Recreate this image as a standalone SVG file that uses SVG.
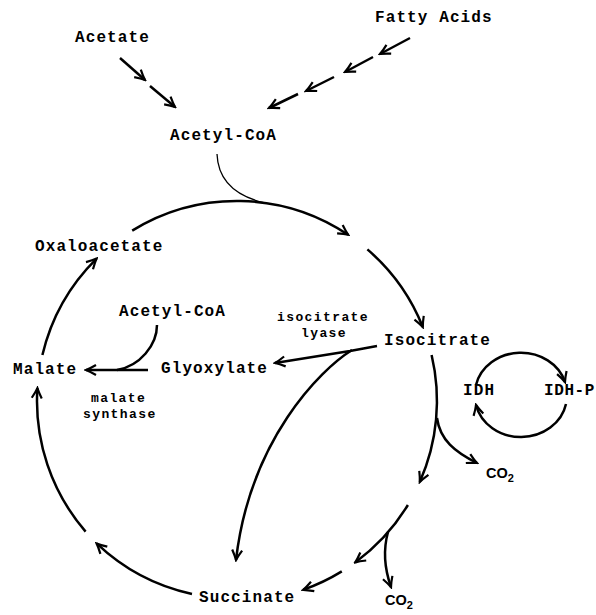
<svg xmlns="http://www.w3.org/2000/svg" width="596" height="615" viewBox="0 0 596 615">
<style>
.lbl{font-family:"Liberation Mono","Courier New",monospace;font-weight:bold;font-size:16px;letter-spacing:1.1px;fill:#000}
.sm{font-family:"Liberation Mono","Courier New",monospace;font-weight:bold;font-size:13px;letter-spacing:1.4px;fill:#000}
.co{font-family:"Liberation Sans",Arial,sans-serif;font-weight:bold;font-size:14.5px;fill:#000}
.ln{fill:none;stroke:#000;stroke-width:2.5;marker-end:url(#ah)}
.thin{fill:none;stroke:#000;stroke-width:1.3}
</style>
<defs>
<marker id="ah" markerUnits="userSpaceOnUse" viewBox="-12 -7 14 14" refX="0" refY="0" markerWidth="14" markerHeight="14" orient="auto">
<path d="M-10,-5 Q-4,-1.5 0,0 Q-4,1.5 -10,5" fill="none" stroke="#000" stroke-width="2.2" stroke-linejoin="miter"/>
</marker>
</defs>
<rect width="596" height="615" fill="#fff"/>
<g id="connectors">
<line class="ln" x1="120" y1="58" x2="145" y2="80"/>
<line class="ln" x1="150" y1="86" x2="175" y2="107"/>
<line class="ln" x1="410" y1="38" x2="380" y2="54"/>
<line class="ln" x1="373" y1="57" x2="345" y2="72"/>
<line class="ln" x1="334" y1="77" x2="306" y2="91"/>
<line class="ln" x1="298" y1="94" x2="269" y2="108"/>
<path class="thin" d="M217,154 C218,180 235,196 265,203"/>
<path class="ln" d="M132.2,230.6 A200,200 0 0 1 348.2,234.8"/>
<path class="ln" d="M367.4,249.4 A200,200 0 0 1 422.8,327"/>
<path class="ln" d="M431.6,355 A200,200 0 0 1 419.8,482"/>
<path class="ln" d="M407.9,505 A200,200 0 0 1 355.2,562.4"/>
<path class="ln" d="M341.8,571.4 A200,200 0 0 1 303.2,589.8"/>
<path class="ln" d="M192,594 A200,200 0 0 1 96.6,543.4"/>
<path class="ln" d="M85.6,531.6 A200,200 0 0 1 37.4,388.1"/>
<path class="ln" d="M42.4,355 A200,200 0 0 1 96.6,258.6"/>
<path class="ln" d="M437,418 C440,440 455,452 477,463"/>
<path class="ln" d="M388,532 C383,550 385,570 391,587"/>
<path class="ln" d="M377,346 L350,351 L275,363"/>
<path class="ln" d="M352,350 C320,370 250,440 236,560"/>
<path class="ln" d="M148,370 L86,370"/>
<path class="ln" style="marker-end:none" d="M157,325 C157,345 140,366 117,370"/>
<path class="ln" d="M476,385 A46,41 0 0 1 565,382"/>
<path class="ln" d="M566,404 A46,41 0 0 1 476,405"/>
</g>
<g id="acetate"><text class="lbl" x="75" y="42">Acetate</text></g>
<g id="fatty-acids"><text class="lbl" x="375" y="22">Fatty Acids</text></g>
<g id="acetyl-coa-top"><text class="lbl" x="170" y="140">Acetyl-CoA</text></g>
<g id="oxaloacetate"><text class="lbl" x="35" y="251">Oxaloacetate</text></g>
<g id="acetyl-coa-inner"><text class="lbl" x="119" y="316">Acetyl-CoA</text></g>
<g id="malate"><text class="lbl" x="13" y="374">Malate</text></g>
<g id="glyoxylate"><text class="lbl" x="161" y="373">Glyoxylate</text></g>
<g id="isocitrate-lyase"><text class="sm" x="277" y="321">isocitrate</text><text class="sm" x="301" y="337">lyase</text></g>
<g id="isocitrate"><text class="lbl" x="384" y="345">Isocitrate</text></g>
<g id="idh"><text class="lbl" x="463" y="395">IDH</text></g>
<g id="idh-p"><text class="lbl" x="544" y="395" style="letter-spacing:0.6px">IDH-P</text></g>
<g id="malate-synthase"><text class="sm" x="91" y="402">malate</text><text class="sm" x="83" y="418">synthase</text></g>
<g id="succinate"><text class="lbl" x="199" y="602">Succinate</text></g>
<g id="co2-right"><text class="co" x="486" y="478">CO<tspan font-size="11" dy="4">2</tspan></text></g>
<g id="co2-bottom"><text class="co" x="385" y="605">CO<tspan font-size="11" dy="4">2</tspan></text></g>
</svg>
